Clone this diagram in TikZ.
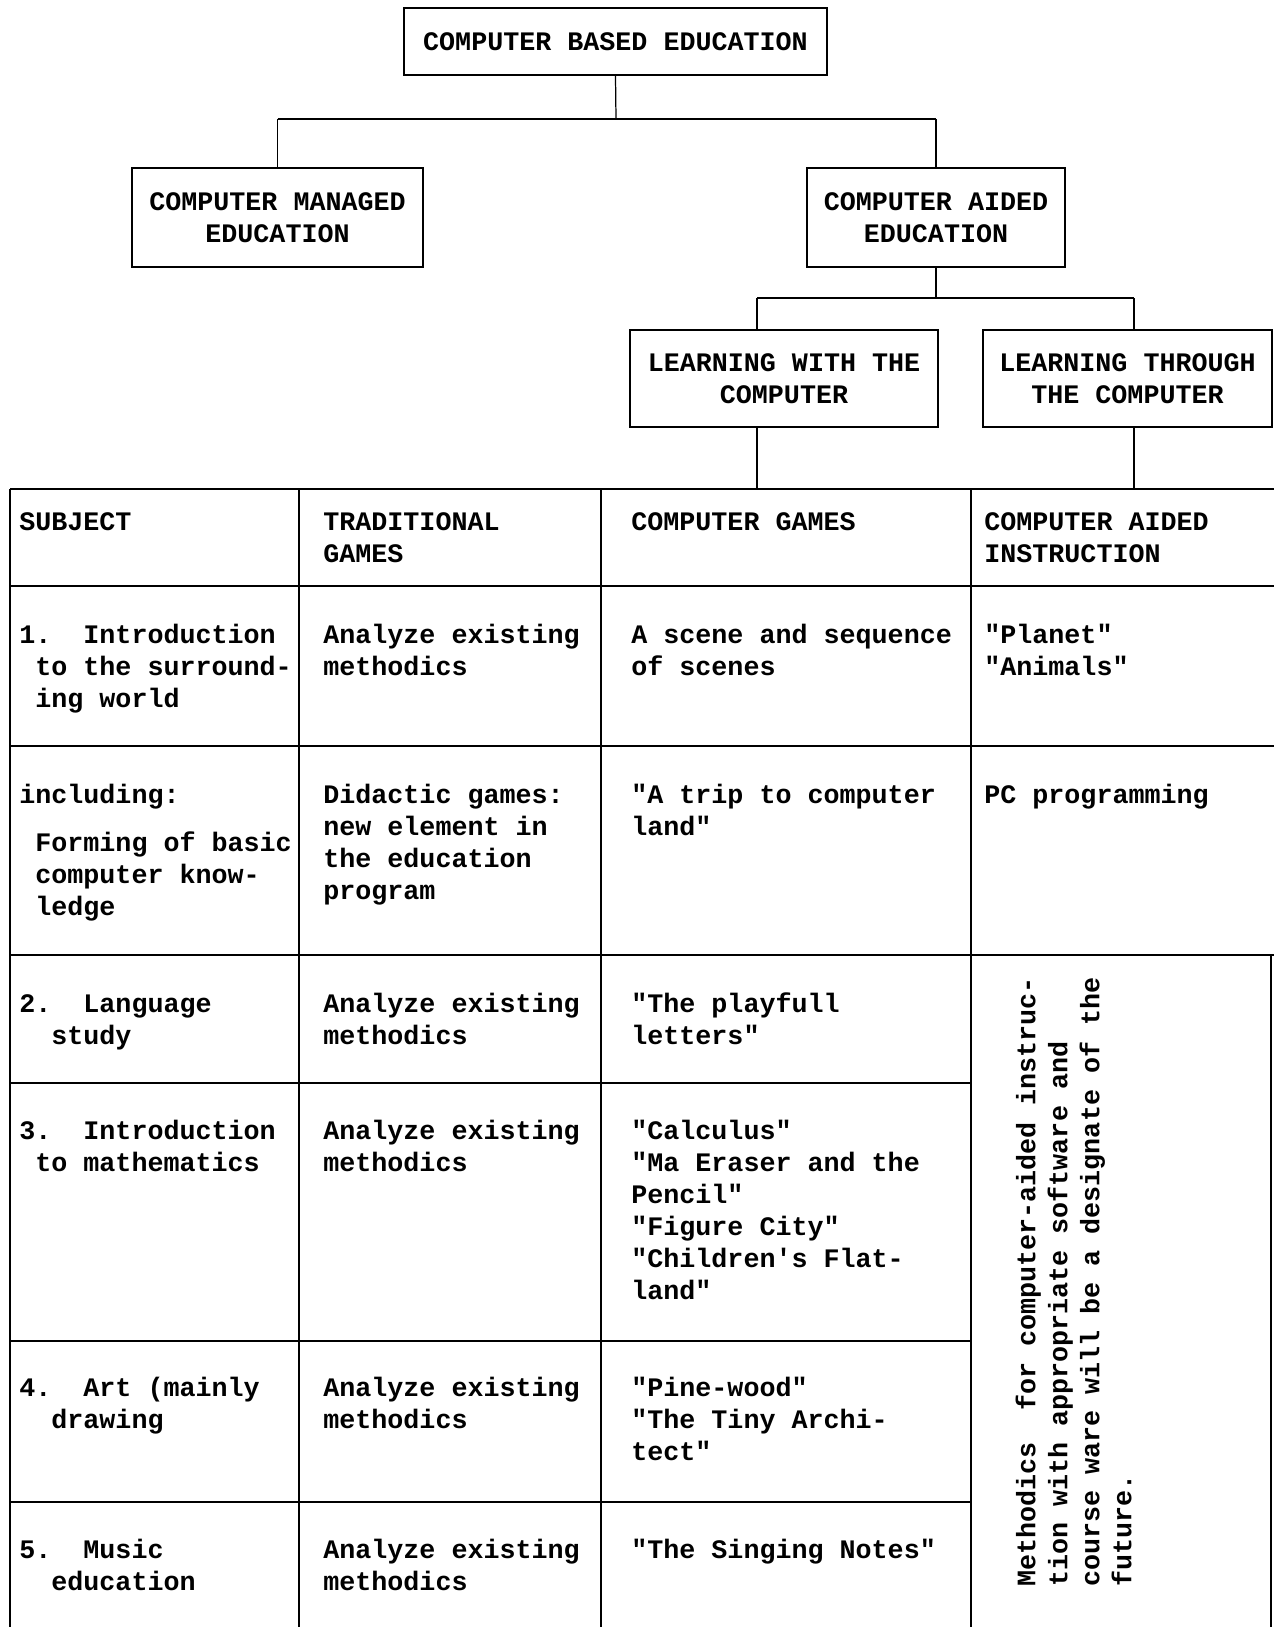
\documentclass[tikz,border=0pt]{standalone}
\usepackage{fontspec}
\setmonofont{Liberation Mono}

\tikzset{
  box/.style={draw, line width=1.3pt, align=center, inner sep=0pt},
  bus/.style={line width=1.6pt},
  stem/.style={line width=0.7pt},
  rule/.style={line width=1.5pt},
  sep/.style={line width=0.8pt},
  cell/.style={anchor=north west, align=left, inner sep=0pt, yshift=12.74pt},
  turned/.style={anchor=north west, align=left, inner sep=0pt, rotate=90},
}

\begin{document}
\begin{tikzpicture}[x=0.02cm, y=-0.02cm, font=\ttfamily\bfseries\fontsize{15.2}{18.2}\selectfont]
    \useasboundingbox (0,0) rectangle (1274,1627);

    % the tree of boxes
    \node[box, minimum width=8.46cm, minimum height=1.34cm] (cbe) at (615.5,41.5) {COMPUTER BASED EDUCATION};
    \node[box, minimum width=5.82cm, minimum height=1.98cm] (cme) at (277.5,217.5) {COMPUTER MANAGED\\EDUCATION};
    \node[box, minimum width=5.16cm, minimum height=1.98cm] (cae) at (936,217.5) {COMPUTER AIDED\\EDUCATION};
    \node[box, minimum width=6.16cm, minimum height=1.94cm] (lwc) at (784,378.5) {LEARNING WITH THE\\COMPUTER};
    \node[box, minimum width=5.78cm, minimum height=1.94cm] (ltc) at (1127.5,378.5) {LEARNING THROUGH\\THE COMPUTER};

    \coordinate (b1) at (616,119);
    \coordinate (p1) at (757,298);
    \coordinate (p2) at (1134,298);
    \coordinate (top) at (0,489);

    \draw[stem] (cbe.south) -- (b1);
    \draw[bus] (cme.north |- b1) -- (cae.north |- b1);
    \draw[stem] (cme.north |- b1) -- (cme.north);
    \draw[stem] (cae.north |- b1) -- (cae.north);

    \draw[stem] (cae.south) -- (cae.south |- p1);
    \draw[bus] (p1) -- (p2);
    \draw[stem] (p1) -- (p1 |- lwc.north);
    \draw[stem] (p2) -- (p2 |- ltc.north);
    \draw[stem] (p1 |- lwc.south) -- (p1 |- top);
    \draw[stem] (p2 |- ltc.south) -- (p2 |- top);

    % the table
    \draw[rule] (10,489) -- (1274,489);
    \foreach \y in {586,746,955}
        \draw[rule] (10,\y) -- (1274,\y);
    \foreach \y in {1083,1341,1502}
        \draw[rule] (10,\y) -- (971,\y);
    \foreach \x in {10,299,601,971}
        \draw[sep] (\x,489) -- (\x,1627);
    \draw[sep] (1271,955) -- (1271,1627);

    % header
    \node[cell] (s0) at (19,530) {\strut SUBJECT};
    \node[cell] (t0) at (323,530) {\strut TRADITIONAL\\GAMES};
    \node[cell] (g0) at (631,530) {\strut COMPUTER GAMES};
    \node[cell] (c0) at (984,530) {\strut COMPUTER AIDED\\INSTRUCTION};

    % rows
    \node[cell] (s1) at (19,643) {\strut 1.~~Introduction\\~to the surround-\\~ing world};
    \node[cell] (t1) at (323,643) {\strut Analyze existing\\methodics};
    \node[cell] (g1) at (631,643) {\strut A scene and sequence\\of scenes};
    \node[cell] (c1) at (984,643) {\strut "Planet"\\"Animals"};

    \node[cell] (s2) at (19,803) {\strut including:\\[0.32cm]~Forming of basic\\~computer know-\\~ledge};
    \node[cell] (t2) at (323,803) {\strut Didactic games:\\new element in\\the education\\program};
    \node[cell] (g2) at (631,803) {\strut "A trip to computer\\land"};
    \node[cell] (c2) at (984,803) {\strut PC programming};

    \node[cell] (s3) at (19,1012) {\strut 2.~~Language\\~~study};
    \node[cell] (t3) at (323,1012) {\strut Analyze existing\\methodics};
    \node[cell] (g3) at (631,1012) {\strut "The playfull\\letters"};

    \node[cell] (s4) at (19,1139) {\strut 3.~~Introduction\\~to mathematics};
    \node[cell] (t4) at (323,1139) {\strut Analyze existing\\methodics};
    \node[cell] (g4) at (631,1139) {\strut "Calculus"\\"Ma Eraser and the\\Pencil"\\"Figure City"\\"Children's Flat-\\land"};

    \node[cell] (s5) at (19,1396) {\strut 4.~~Art (mainly\\~~drawing};
    \node[cell] (t5) at (323,1396) {\strut Analyze existing\\methodics};
    \node[cell] (g5) at (631,1396) {\strut "Pine-wood"\\"The Tiny Archi-\\tect"};

    \node[cell] (s6) at (19,1558) {\strut 5.~~Music\\~~education};
    \node[cell] (t6) at (323,1558) {\strut Analyze existing\\methodics};
    \node[cell] (g6) at (631,1558) {\strut "The Singing Notes"};

    % merged cell, turned text
    \node[turned] (c3) at (1012.6,1587) {\strut Methodics~~for computer-aided instruc-\\tion with appropriate software and\\course ware will be a designate of the\\future.};

\end{tikzpicture}
\end{document}
